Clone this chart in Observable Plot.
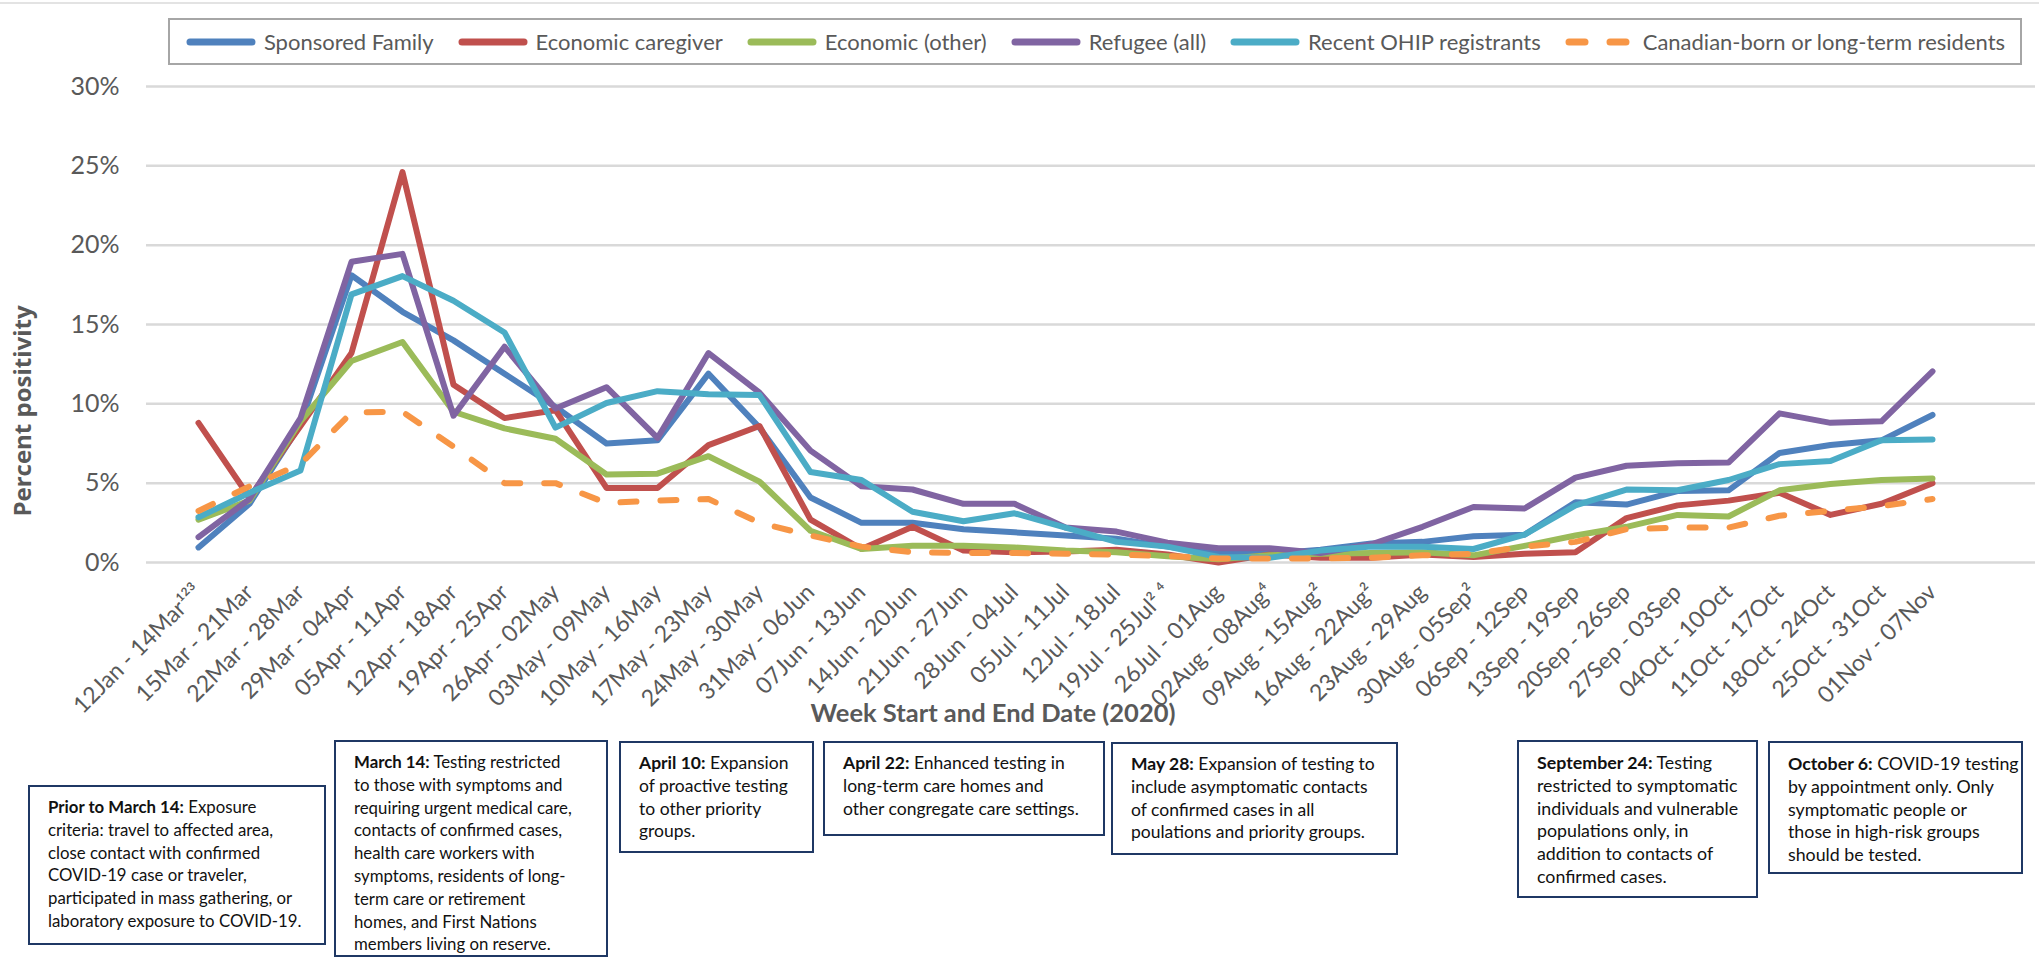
<!DOCTYPE html>
<html>
<head>
<meta charset="utf-8">
<script src="https://cdn.jsdelivr.net/npm/d3@7"></script>
<script src="https://cdn.jsdelivr.net/npm/@observablehq/plot@0.6"></script>
<style>
  html, body { margin: 0; padding: 0; background: #fff; }
  #wrap { position: relative; width: 2039px; height: 964px; overflow: hidden; font-family: Lato, "Liberation Sans", sans-serif; }
  #topline { position: absolute; left: 0; top: 2px; width: 2039px; height: 0; border-top: 2px solid #e3e3e3; }
  #chart { position: absolute; left: 0; top: 0; }
  #legend { position: absolute; left: 168px; top: 18px; width: 1850px; height: 43px; border: 2px solid #a6a6a6;
            display: flex; align-items: center; justify-content: center; gap: 23px; font-size: 22px; color: #595959; box-sizing: content-box; }
  .item { display: flex; align-items: center; gap: 7px; white-space: nowrap; }
  #xtitle { position: absolute; left: 643px; width: 700px; top: 697px; text-align: center; font-weight: bold; font-size: 25.5px; color: #595959; }
  #ytitle { position: absolute; left: 21px; top: 411px; transform: translate(-50%, -50%) rotate(-90deg); white-space: nowrap;
            font-family: "Open Sans", sans-serif; font-weight: bold; font-size: 24px; color: #595959; }
  .note { position: absolute; border: 2px solid #1f3864; box-sizing: border-box; padding: 9px 6px 6px 18px; color: #111;
          line-height: 22.8px; white-space: nowrap; background: #fff; }
  .note b { font-weight: bold; }
</style>
</head>
<body>
<div id="wrap">
  <div id="topline"></div>
  <div id="chart"></div>
  <div id="legend"></div>
  <div id="xtitle">Week Start and End Date (2020)</div>
  <div id="ytitle">Percent positivity</div>
</div>
<script>
// ---------- data ----------
const weeks = [
  "12Jan - 14Mar¹²³", "15Mar - 21Mar", "22Mar - 28Mar", "29Mar - 04Apr", "05Apr - 11Apr",
  "12Apr - 18Apr", "19Apr - 25Apr", "26Apr - 02May", "03May - 09May", "10May - 16May",
  "17May - 23May", "24May - 30May", "31May - 06Jun", "07Jun - 13Jun", "14Jun - 20Jun",
  "21Jun - 27Jun", "28Jun - 04Jul", "05Jul - 11Jul", "12Jul - 18Jul", "19Jul - 25Jul² ⁴",
  "26Jul - 01Aug", "02Aug - 08Aug⁴", "09Aug - 15Aug²", "16Aug - 22Aug²", "23Aug - 29Aug",
  "30Aug - 05Sep²", "06Sep - 12Sep", "13Sep - 19Sep", "20Sep - 26Sep", "27Sep - 03Sep",
  "04Oct - 10Oct", "11Oct - 17Oct", "18Oct - 24Oct", "25Oct - 31Oct", "01Nov - 07Nov"
];

const seriesNames = [
  "Sponsored Family", "Economic caregiver", "Economic (other)",
  "Refugee (all)", "Recent OHIP registrants", "Canadian-born or long-term residents"
];

const sponsoredFamily = [0.95, 3.7, 8.7, 18.1, 15.8, 14.0, 11.9, 9.8, 7.5, 7.7, 11.9, 8.5, 4.1, 2.5, 2.5, 2.1, 1.9, 1.7, 1.5, 1.0,
  0.55, 0.55, 0.8, 1.2, 1.3, 1.65, 1.75, 3.8, 3.65, 4.5, 4.55, 6.9, 7.4, 7.7, 9.3];
const economicCaregiver = [8.8, 4.1, 8.6, 13.2, 24.6, 11.2, 9.1, 9.6, 4.7, 4.7, 7.4, 8.6, 2.7, 0.85, 2.25, 0.75, 0.65, 0.7, 0.8, 0.5,
  0.0, 0.5, 0.3, 0.3, 0.5, 0.35, 0.55, 0.65, 2.8, 3.6, 3.9, 4.4, 3.0, 3.7, 5.0];
const economicOther = [2.7, 3.9, 8.9, 12.7, 13.9, 9.5, 8.45, 7.8, 5.55, 5.6, 6.7, 5.1, 2.0, 0.85, 1.05, 1.05, 0.95, 0.75, 0.65, 0.4,
  0.2, 0.45, 0.55, 0.6, 0.65, 0.45, 1.05, 1.7, 2.25, 3.0, 2.9, 4.55, 4.95, 5.2, 5.3];
const refugee = [1.6, 4.0, 9.1, 18.95, 19.45, 9.25, 13.6, 9.7, 11.05, 7.85, 13.2, 10.7, 7.05, 4.8, 4.6, 3.7, 3.7, 2.2, 1.95, 1.25,
  0.9, 0.9, 0.6, 1.15, 2.25, 3.5, 3.4, 5.35, 6.1, 6.25, 6.3, 9.4, 8.8, 8.9, 12.05];
const recentOhip = [2.85, 4.4, 5.8, 16.9, 18.05, 16.5, 14.5, 8.5, 10.05, 10.8, 10.6, 10.55, 5.7, 5.2, 3.2, 2.6, 3.1, 2.2, 1.3, 1.0,
  0.35, 0.3, 0.75, 1.0, 1.0, 0.85, 1.75, 3.6, 4.6, 4.55, 5.2, 6.2, 6.4, 7.7, 7.75];
const canadianBorn = [3.25, 4.8, 6.2, 9.45, 9.5, 7.3, 5.0, 5.0, 3.75, 3.9, 4.0, 2.5, 1.7, 1.0, 0.65, 0.6, 0.6, 0.55, 0.5, 0.4,
  0.25, 0.25, 0.25, 0.3, 0.45, 0.55, 1.0, 1.3, 2.1, 2.2, 2.2, 2.95, 3.25, 3.55, 4.0];

const yTicks = [0, 5, 10, 15, 20, 25, 30];

const seriesColors = ["#4f81bd", "#c0504d", "#9bbb59", "#8064a2", "#4bacc6", "#f79646"];

const notes = [
  {lead: "Prior to March 14:", lines: [" Exposure", "criteria: travel to affected area,", "close contact with confirmed", "COVID-19 case or traveler,", "participated in mass gathering, or", "laboratory exposure to COVID-19."]},
  {lead: "March 14:", lines: [" Testing restricted", "to those with symptoms and", "requiring urgent medical care,", "contacts of confirmed cases,", "health care workers with", "symptoms, residents of long-", "term care or retirement", "homes, and First Nations", "members living on reserve."]},
  {lead: "April 10:", lines: [" Expansion", "of proactive testing", "to other priority", "groups."]},
  {lead: "April 22:", lines: [" Enhanced testing in", "long-term care homes and", "other congregate care settings."]},
  {lead: "May 28:", lines: [" Expansion of testing to", "include asymptomatic contacts", "of confirmed cases in all", "poulations and priority groups."]},
  {lead: "September 24:", lines: [" Testing", "restricted to symptomatic", "individuals and vulnerable", "populations only, in", "addition to contacts of", "confirmed cases."]},
  {lead: "October 6:", lines: [" COVID-19 testing", "by appointment only. Only", "symptomatic people or", "those in high-risk groups", "should be tested."]}
];

// ---------- build table ----------
const allSeries = [sponsoredFamily, economicCaregiver, economicOther, refugee, recentOhip, canadianBorn];
const rows = [];
allSeries.forEach((vals, s) => vals.forEach((v, i) => rows.push({series: seriesNames[s], week: weeks[i], value: v})));

const lineMarks = seriesNames.map((name, s) => Plot.line(rows.filter(r => r.series === name), {
  x: "week", y: "value",
  stroke: seriesColors[s], strokeWidth: 6,
  strokeLinejoin: "round", strokeLinecap: "round",
  strokeDasharray: s === 5 ? "16,24" : null
}));

const chart = Plot.plot({
  width: 2039,
  height: 740,
  marginTop: 86,
  marginBottom: 178,
  marginLeft: 146,
  marginRight: 4,
  style: {fontFamily: "Lato, sans-serif", color: "#595959", background: "transparent"},
  x: {type: "point", domain: weeks, range: [172.4, 1957.4], label: null},
  y: {domain: [0, 30], label: null},
  marks: [
    Plot.gridY(yTicks, {stroke: "#d9d9d9", strokeOpacity: 1, strokeWidth: 2.5}),
    Plot.axisY({ticks: yTicks, tickSize: 0, tickPadding: 27, tickFormat: d => d + "%", fontSize: 25, fill: "#595959", label: null}),
    Plot.axisX({tickSize: 0, tickPadding: 26, tickRotate: -45, textAnchor: "end", lineAnchor: "middle", fontSize: 23, fill: "#595959", label: null}),
    ...lineMarks
  ]
});
document.getElementById("chart").appendChild(chart);

// ---------- legend ----------
const legend = document.getElementById("legend");
seriesNames.forEach((name, s) => {
  const item = document.createElement("div");
  item.className = "item";
  const dashed = s === 5;
  item.innerHTML = `<svg width="72" height="12"><line x1="5" y1="6" x2="67" y2="6" stroke="${seriesColors[s]}" stroke-width="7" stroke-linecap="round" ${dashed ? 'stroke-dasharray="16,25"' : ''}/></svg><span>${name}</span>`;
  legend.appendChild(item);
});

// ---------- notes ----------
const noteBoxes = [
  {left: 28, top: 785, width: 298, height: 160, fs: 16.8},
  {left: 334, top: 740, width: 274, height: 217, fs: 16.8},
  {left: 619, top: 741, width: 195, height: 112, fs: 17.5},
  {left: 823, top: 741, width: 282, height: 95, fs: 17.5},
  {left: 1111, top: 742, width: 287, height: 113, fs: 17.5},
  {left: 1517, top: 740, width: 241, height: 158, fs: 17.8},
  {left: 1768, top: 741, width: 255, height: 133, fs: 17.8}
];
const wrap = document.getElementById("wrap");
notes.forEach((n, k) => {
  const b = noteBoxes[k];
  const d = document.createElement("div");
  d.className = "note";
  Object.assign(d.style, {left: b.left + "px", top: b.top + "px", width: b.width + "px", height: b.height + "px", fontSize: b.fs + "px"});
  d.innerHTML = `<b>${n.lead}</b>` + n.lines.join("<br>");
  wrap.appendChild(d);
});
</script>
</body>
</html>
